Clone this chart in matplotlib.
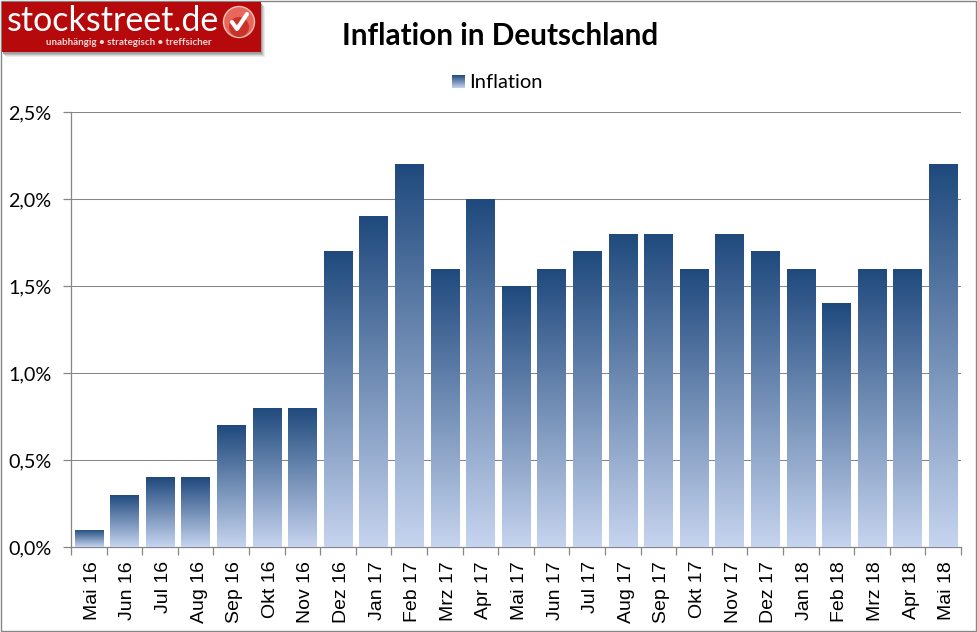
import numpy as np
import matplotlib
matplotlib.use('Agg')
import matplotlib.pyplot as plt
from matplotlib.colors import LinearSegmentedColormap
from matplotlib.patches import Rectangle, Circle
from matplotlib.transforms import ScaledTranslation

# daten
monate = ['Mai 16', 'Jun 16', 'Jul 16', 'Aug 16', 'Sep 16', 'Okt 16', 'Nov 16', 'Dez 16',
          'Jan 17', 'Feb 17', 'Mrz 17', 'Apr 17', 'Mai 17', 'Jun 17', 'Jul 17', 'Aug 17',
          'Sep 17', 'Okt 17', 'Nov 17', 'Dez 17', 'Jan 18', 'Feb 18', 'Mrz 18', 'Apr 18', 'Mai 18']
inflation = [0.1, 0.3, 0.4, 0.4, 0.7, 0.8, 0.8, 1.7, 1.9, 2.2, 1.6, 2.0, 1.5, 1.6, 1.7, 1.8,
             1.8, 1.6, 1.8, 1.7, 1.6, 1.4, 1.6, 1.6, 2.2]
y_ticks = [0.0, 0.5, 1.0, 1.5, 2.0, 2.5]

W, H = 977, 632
GRAU = '#868686'
verlauf = LinearSegmentedColormap.from_list('verlauf', ['#1f497d', '#c6d4ef'])
gradient = np.linspace(0, 1, 256).reshape(-1, 1)

fig = plt.figure(figsize=(W / 100, H / 100), dpi=100, facecolor='white')
ax = fig.add_axes([71 / W, (H - 547) / H, 890 / W, 435 / H])

# balken mit verlauf, jeder balken hat den ganzen verlauf
bars = ax.bar(range(len(monate)), inflation, width=0.8, color='none', zorder=3)
for b in bars:
    im = ax.imshow(gradient, cmap=verlauf, aspect='auto', zorder=3, interpolation='bilinear',
                   extent=[b.get_x(), b.get_x() + b.get_width(), 0, b.get_height()])
    im.set_clip_path(b)

ax.set_xlim(-0.5, len(monate) - 0.5)
ax.set_ylim(0, 2.5)
ax.set_yticks(y_ticks)
ax.set_yticklabels([f'{v:.1f}%'.replace('.', ',') for v in y_ticks],
                   family='Lato', fontsize=14.2, color='black')
# labels etwas hoeher setzen
for lab in ax.get_yticklabels():
    lab.set_transform(lab.get_transform() + ScaledTranslation(0, 1.5 / 72, fig.dpi_scale_trans))
ax.set_xticks(np.arange(len(monate) + 1) - 0.5)
ax.set_xticklabels([])
for i, m in enumerate(monate):
    ax.annotate(m, xy=(i, 0), xycoords=('data', 'axes fraction'), xytext=(2.5, -10),
                textcoords='offset points', rotation=90, ha='center', va='top',
                family='Liberation Sans', fontsize=14, color='black')

ax.grid(axis='y', color=GRAU, linewidth=0.75, zorder=1)
ax.set_axisbelow(True)
for s in ['top', 'right']:
    ax.spines[s].set_visible(False)
for s in ['left', 'bottom']:
    ax.spines[s].set_color(GRAU)
    ax.spines[s].set_linewidth(0.9)
ax.tick_params(axis='both', length=6, width=0.9, color=GRAU)
ax.tick_params(axis='y', pad=8)

# titel und legende
fig.text(500 / W, 1 - 36 / H, 'Inflation in Deutschland', family='Lato', weight='bold',
         fontsize=21.4, ha='center', va='center', color='black')
fig.text(469 / W, 1 - 82 / H, 'Inflation', family='Lato', fontsize=14.5,
         ha='left', va='center', color='black')

# overlay in pixelkoordinaten: rahmen, logo, legendensymbol
ov = fig.add_axes([0, 0, 1, 1], facecolor='none', zorder=5)
ov.axis('off')
ov.imshow(gradient, cmap=verlauf, aspect='auto', extent=[452, 465, 88, 75], origin='upper',
          interpolation='bilinear')
ov.set_xlim(0, W)
ov.set_ylim(H, 0)
ov.add_patch(Rectangle((0.5, 1), W - 1.5, H - 2.5, fill=False, ec=GRAU, lw=1))

# logo mit weichem schatten
for off, grau in [(5, '#ececec'), (4, '#d8d8d8'), (3, '#bcbcbc'), (2, '#a0a0a0')]:
    ov.add_patch(Rectangle((2 + off - 1, 2 + off), 259, 50, fc=grau, ec='none'))
ov.add_patch(Rectangle((2, 2), 259, 50, fc='#b5090b', ec='none'))
ov.text(7, 21, 'stockstreet.de', family='Lato', fontsize=24.5, color='white', ha='left', va='center')
ov.text(212, 42.5, 'unabhängig • strategisch • treffsicher', family='Lato', weight='bold',
        fontsize=7.1, color='#f3d9d9', ha='right', va='center')
ov.add_patch(Circle((239, 22), 15.5, fc='#e8675a', ec='#f1c4bd', lw=1))
ov.add_patch(Circle((239, 27), 10, fc='#c9332b', ec='none'))
ov.plot([232, 237, 247], [22, 29, 14], color='white', lw=3, solid_capstyle='round')

fig.savefig('out.png', dpi=100)
